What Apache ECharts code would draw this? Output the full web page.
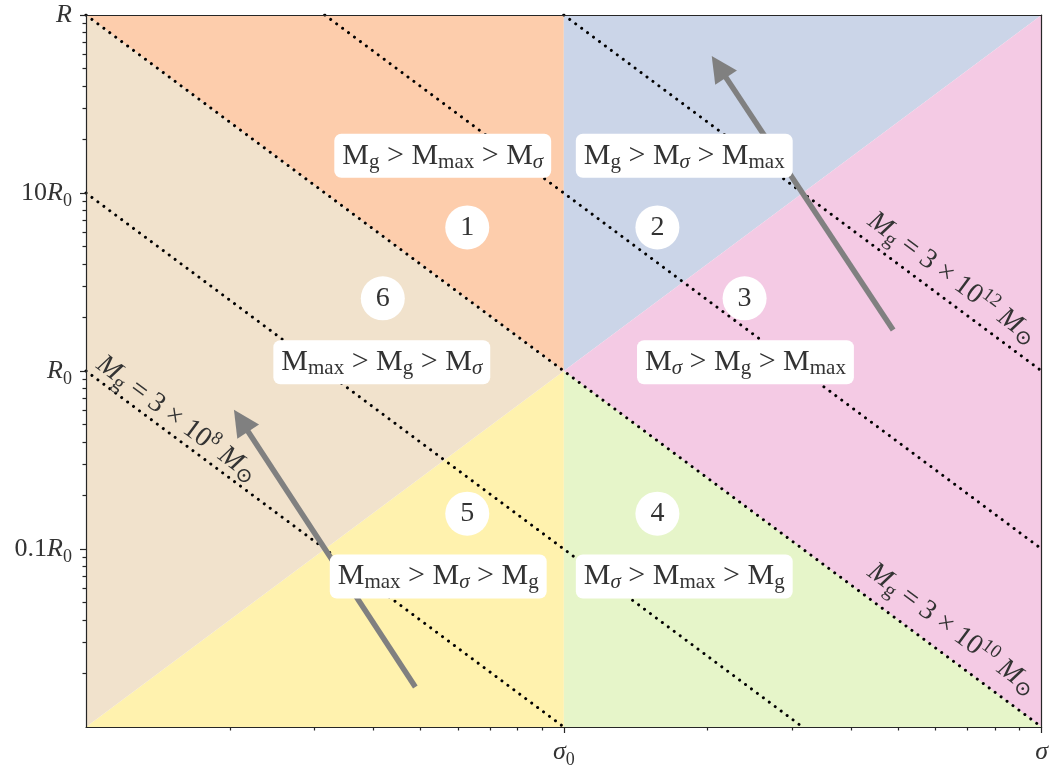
<!DOCTYPE html>
<html>
<head>
<meta charset="utf-8">
<script src="https://cdn.jsdelivr.net/npm/echarts@6/dist/echarts.min.js"></script>
<style>
  html, body { margin: 0; padding: 0; background: #fff; }
  #chart { width: 1051px; height: 769px; }
</style>
</head>
<body>
<div id="chart"></div>
<script>
// everything in units of sigma0 (x) and R0 (y), both axes logarithmic
const xRange = [0.1, 10];
const yRange = [0.01, 100];
const xTickValues = [1, 10];
const xTickLabels = ['{it|σ}{sub|0}', '{it|σ}'];
const yTickValues = [0.1, 1, 10, 100];
const yTickLabels = ['0.1{it|R}{sub|0}', '{it|R}{sub|0}', '10{it|R}{sub|0}', '{it|R}'];
const minorMultiples = [2, 3, 4, 5, 6, 7, 8, 9];

// the six regimes, corners as [sigma/sigma0, R/R0]
const regionColors = ['#fdcdac', '#cbd5e8', '#f4cae4', '#e6f5c9', '#fff2ae', '#f1e2cc'];
const regionCorners = [
  [[0.1, 100], [1, 100], [1, 1]],
  [[1, 100], [10, 100], [1, 1]],
  [[1, 1], [10, 100], [10, 0.01]],
  [[1, 1], [10, 0.01], [1, 0.01]],
  [[0.1, 0.01], [1, 1], [1, 0.01]],
  [[0.1, 100], [1, 1], [0.1, 0.01]]
];

// lines of constant gas mass
const massLineStart = [[1, 100], [0.316, 100], [0.1, 100], [0.1, 10], [0.1, 1]];
const massLineEnd = [[10, 1], [10, 0.1], [10, 0.01], [3.16, 0.01], [1, 0.01]];
const massLabelPos = [[6.5, 3.32], [6.49, 0.0354], [0.155, 0.538]];
const massLabelExp = ['12', '10', '8'];

// evolution arrows, tail -> tip
const arrowTail = [[4.89, 1.70], [0.489, 0.0168]];
const arrowTip = [[2.04, 58.9], [0.204, 0.605]];

// regime boxes and numbers
const phaseTexts = [
  'M{s|g} > M{s|max} > M{si|σ}',
  'M{s|g} > M{si|σ} > M{s|max}',
  'M{s|max} > M{s|g} > M{si|σ}',
  'M{si|σ} > M{s|g} > M{s|max}',
  'M{s|max} > M{si|σ} > M{s|g}',
  'M{si|σ} > M{s|max} > M{s|g}'
];
const phasePos = [[0.558, 16.2], [1.787, 16.2], [0.416, 1.12], [2.40, 1.12], [0.546, 0.0701], [1.787, 0.0701]];
const regimeNumbers = ['1', '2', '6', '3', '5', '4'];
const regimePos = [[0.628, 6.41], [1.57, 6.41], [0.418, 2.56], [2.39, 2.56], [0.628, 0.158], [1.57, 0.158]];

const lg = Math.log10;
const serif = 'Liberation Serif, DejaVu Serif, serif';
const axisColor = '#262626';
const textColor = '#333';

const decades = (lo, hi) => {
  const out = [];
  for (let d = lo; d < hi * 0.999; d *= 10) minorMultiples.forEach(m => out.push(lg(d * m)));
  return out;
};

const richBase = {
  it: { fontFamily: serif, fontStyle: 'italic', fontSize: 26, color: textColor, lineHeight: 34 },
  sub: { fontFamily: serif, fontSize: 18, color: textColor, verticalAlign: 'bottom', lineHeight: 20 },
  s: { fontFamily: serif, fontSize: 21, color: textColor, verticalAlign: 'bottom', lineHeight: 20 },
  si: { fontFamily: serif, fontStyle: 'italic', fontSize: 21, color: textColor, verticalAlign: 'bottom', lineHeight: 20 },
  i: { fontFamily: serif, fontStyle: 'italic', fontSize: 28, color: textColor, lineHeight: 34 },
  p: { fontFamily: serif, fontSize: 19, color: textColor, verticalAlign: 'top', lineHeight: 20 }
};

const pickLabel = (values, labels) => v => {
  const i = values.findIndex(t => Math.abs(lg(t) - v) < 1e-6);
  return i < 0 ? '' : labels[i];
};

const chart = echarts.init(document.getElementById('chart'));

const lineStyle = { color: axisColor, width: 1.2 };
const baseX = { type: 'value', min: lg(xRange[0]), max: lg(xRange[1]), z: 10, splitLine: { show: false } };
const baseY = { type: 'value', min: lg(yRange[0]), max: lg(yRange[1]), z: 10, splitLine: { show: false } };
const frameLine = { show: true, onZero: false, lineStyle };
const noLine = { show: false, onZero: false };

const option = {
  animation: false,
  grid: { left: 86, right: 7, top: 15, bottom: 41 },
  xAxis: [
    Object.assign({}, baseX, {
      position: 'bottom',
      axisLine: frameLine,
      axisTick: { show: true, customValues: xTickValues.map(lg), length: 6, lineStyle },
      axisLabel: {
        customValues: xTickValues.map(lg),
        formatter: pickLabel(xTickValues, xTickLabels),
        margin: 8, color: textColor, fontFamily: serif, fontSize: 26, rich: richBase
      }
    }),
    Object.assign({}, baseX, {
      position: 'bottom',
      axisLine: noLine,
      axisTick: { show: true, customValues: decades(xRange[0], xRange[1]), length: 3.5, lineStyle },
      axisLabel: { show: false }
    }),
    Object.assign({}, baseX, {
      position: 'top',
      axisLine: frameLine,
      axisTick: { show: false },
      axisLabel: { show: false }
    })
  ],
  yAxis: [
    Object.assign({}, baseY, {
      position: 'left',
      axisLine: frameLine,
      axisTick: { show: true, customValues: yTickValues.map(lg), length: 6, lineStyle },
      axisLabel: {
        customValues: yTickValues.map(lg),
        formatter: pickLabel(yTickValues, yTickLabels),
        margin: 14, color: textColor, fontFamily: serif, fontSize: 26, rich: richBase
      }
    }),
    Object.assign({}, baseY, {
      position: 'left',
      axisLine: noLine,
      axisTick: { show: true, customValues: decades(yRange[0], yRange[1]), length: 3.5, lineStyle },
      axisLabel: { show: false }
    }),
    Object.assign({}, baseY, {
      position: 'right',
      axisLine: frameLine,
      axisTick: { show: false },
      axisLabel: { show: false }
    })
  ],
  series: [
    {
      type: 'custom',
      z: 1,
      silent: true,
      data: regionCorners.map(c => [lg(c[0][0]), lg(c[0][1])]),
      renderItem: (params, api) => ({
        type: 'polygon',
        shape: { points: regionCorners[params.dataIndex].map(p => api.coord([lg(p[0]), lg(p[1])])) },
        style: { fill: regionColors[params.dataIndex] }
      })
    },
    ...massLineStart.map((p, i) => ({
      type: 'line',
      z: 2,
      silent: true,
      showSymbol: false,
      data: [[lg(p[0]), lg(p[1])], [lg(massLineEnd[i][0]), lg(massLineEnd[i][1])]],
      lineStyle: { color: '#000', width: 3, type: [0.01, 7.4], cap: 'round' }
    })),
    {
      type: 'custom',
      z: 3,
      silent: true,
      encode: { x: [0, 2], y: [1, 3] },
      data: arrowTail.map((t, i) => [lg(t[0]), lg(t[1]), lg(arrowTip[i][0]), lg(arrowTip[i][1])]),
      renderItem: (params, api) => {
        const a = api.coord([api.value(0), api.value(1)]);
        const b = api.coord([api.value(2), api.value(3)]);
        const len = Math.hypot(b[0] - a[0], b[1] - a[1]);
        const d = [(b[0] - a[0]) / len, (b[1] - a[1]) / len];
        const n = [-d[1], d[0]];
        const headLen = 26, headHalf = 13;
        const base = [b[0] - d[0] * headLen, b[1] - d[1] * headLen];
        return {
          type: 'group',
          children: [
            { type: 'line', shape: { x1: a[0], y1: a[1], x2: base[0] + d[0] * 2, y2: base[1] + d[1] * 2 },
              style: { stroke: '#808080', lineWidth: 5.5 } },
            { type: 'polygon',
              shape: { points: [b, [base[0] + n[0] * headHalf, base[1] + n[1] * headHalf], [base[0] - n[0] * headHalf, base[1] - n[1] * headHalf]] },
              style: { fill: '#808080' } }
          ]
        };
      }
    },
    {
      type: 'scatter',
      z: 4,
      silent: true,
      symbolSize: 0,
      itemStyle: { opacity: 1 },
      data: massLabelPos.map(p => [lg(p[0]), lg(p[1])]),
      label: {
        show: true,
        position: 'inside',
        rotate: -36.6,
        formatter: p => '{i|M}{s|g} = 3 × 10{p|' + massLabelExp[p.dataIndex] + '} {i|M}{s|⊙}',
        fontFamily: serif, fontSize: 28, lineHeight: 34, color: textColor, rich: richBase
      }
    },
    {
      type: 'scatter',
      z: 5,
      silent: true,
      symbolSize: 0,
      itemStyle: { opacity: 1 },
      data: phasePos.map(p => [lg(p[0]), lg(p[1])]),
      label: {
        show: true,
        position: 'inside',
        formatter: p => phaseTexts[p.dataIndex],
        fontFamily: serif, fontSize: 30, lineHeight: 34, color: textColor,
        backgroundColor: '#fff', borderRadius: 7, padding: [5, 8],
        rich: richBase
      }
    },
    {
      type: 'scatter',
      z: 5,
      silent: true,
      symbol: 'circle',
      symbolSize: 44,
      itemStyle: { color: '#fff', opacity: 1 },
      data: regimePos.map(p => [lg(p[0]), lg(p[1])]),
      label: {
        show: true,
        position: 'inside',
        formatter: p => regimeNumbers[p.dataIndex],
        fontFamily: serif, fontSize: 28, color: textColor
      }
    }
  ]
};

chart.setOption(option);
</script>
</body>
</html>
